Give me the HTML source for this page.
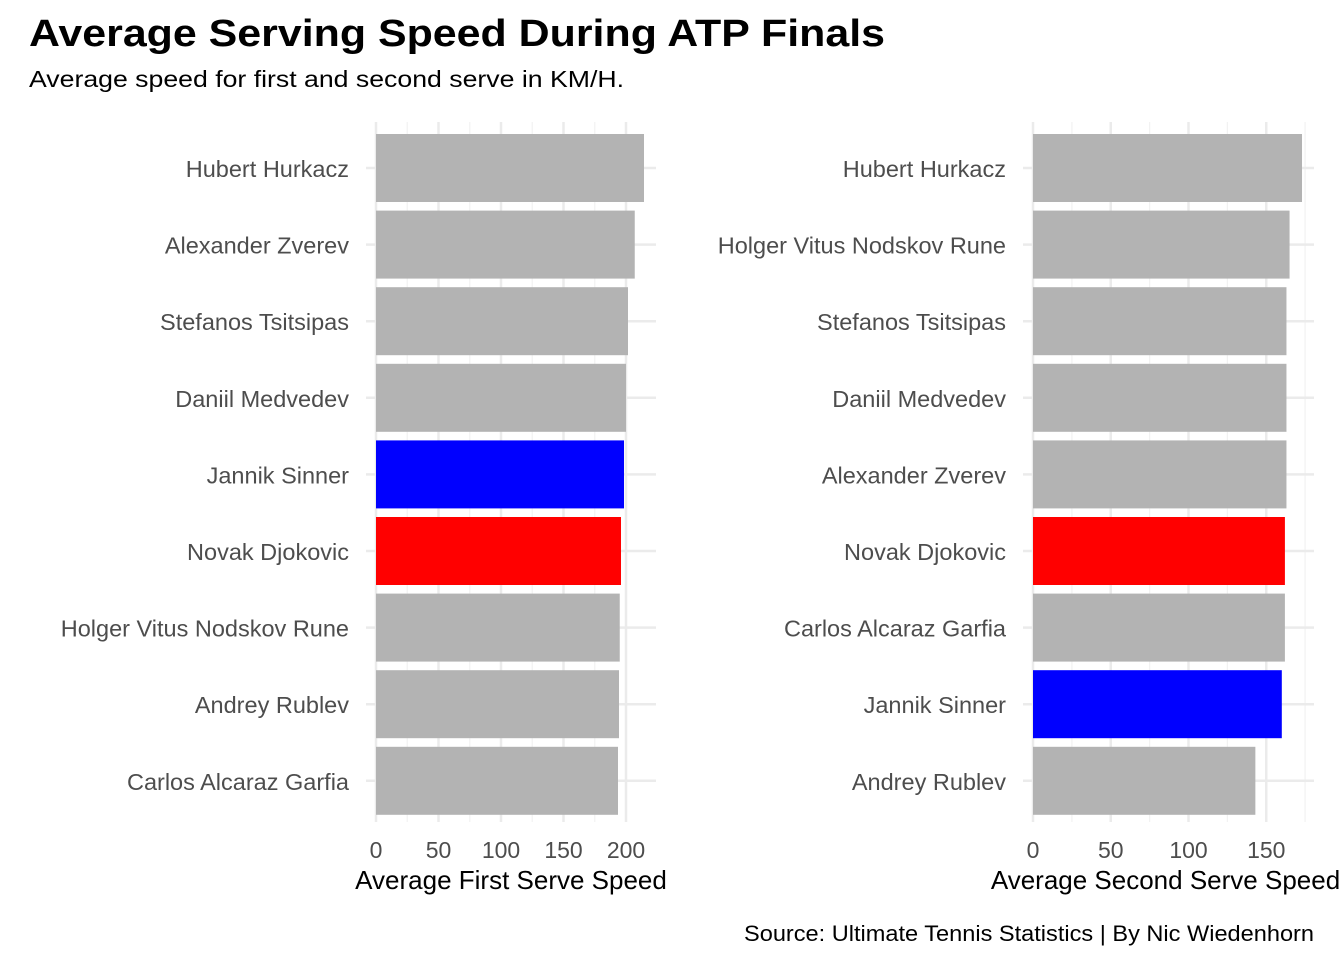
<!DOCTYPE html>
<html><head><meta charset="utf-8"><style>
body{margin:0;background:#fff;font-family:"Liberation Sans",Arial,sans-serif}
</style></head><body>
<svg id="c" width="1344" height="960" xmlns="http://www.w3.org/2000/svg" font-family="Liberation Sans, Arial, sans-serif">
<text x="29" y="46" font-size="38" font-weight="bold" fill="#000" textLength="856" lengthAdjust="spacingAndGlyphs">Average Serving Speed During ATP Finals</text>
<text x="29" y="87" font-size="23.5" fill="#000" textLength="595" lengthAdjust="spacingAndGlyphs">Average speed for first and second serve in KM/H.</text>
<text x="1314" y="941" font-size="22" text-anchor="end" fill="#000" textLength="570" lengthAdjust="spacingAndGlyphs">Source: Ultimate Tennis Statistics | By Nic Wiedenhorn</text>
</svg>
<script>
const firstPlayers=["Hubert Hurkacz","Alexander Zverev","Stefanos Tsitsipas","Daniil Medvedev","Jannik Sinner","Novak Djokovic","Holger Vitus Nodskov Rune","Andrey Rublev","Carlos Alcaraz Garfia"];
const firstValues=[214.4,207,201.6,200,198.4,196,195,194.4,193.6];
const firstTicks=[0,50,100,150,200];
const secondPlayers=["Hubert Hurkacz","Holger Vitus Nodskov Rune","Stefanos Tsitsipas","Daniil Medvedev","Alexander Zverev","Novak Djokovic","Carlos Alcaraz Garfia","Jannik Sinner","Andrey Rublev"];
const secondValues=[173,165,163,163,163,162,162,160,143];
const secondTicks=[0,50,100,150];
const svg=document.getElementById('c');
const NS="http://www.w3.org/2000/svg";
function mk(t,a){const e=document.createElementNS(NS,t);for(const k in a)e.setAttribute(k,a[k]);svg.appendChild(e);return e;}
function colorFor(n){return n==="Jannik Sinner"?"#0000ff":n==="Novak Djokovic"?"#ff0000":"#b3b3b3";}
function panel(players,values,ticks,x0,pxPer,xRight,title,prefix){
  const top=122,bottom=822,y0=168,step=76.6,bh=68;
  const xs=v=>x0+v*pxPer;
  const maxT=(xRight-x0)/pxPer;
  for(let v=25;v<maxT;v+=50){const l=mk('line',{x1:xs(v),x2:xs(v),y1:top,y2:bottom,stroke:'#f2f2f2','stroke-width':1.2});
    
    }
  ticks.forEach(v=>{const l=mk('line',{x1:xs(v),x2:xs(v),y1:top,y2:bottom,stroke:'#ebebeb','stroke-width':2.5});
    
    
    const t=mk('text',{x:xs(v),y:858,'font-size':23,'text-anchor':'middle',fill:'#4d4d4d'});t.textContent=v;
    
    });
  players.forEach((p,i)=>{const yc=y0+i*step;
    const g=mk('line',{x1:x0-10,x2:xRight,y1:yc,y2:yc,stroke:'#ebebeb','stroke-width':2.5});
    
    
    const r=mk('rect',{x:x0,y:yc-bh/2,width:xs(values[i])-x0,height:bh,fill:colorFor(p)});
    
    
    const t=mk('text',{x:x0-27,y:yc+9,'font-size':23.5,'text-anchor':'end',fill:'#4d4d4d'});t.textContent=p;
    
    });
  const at=mk('text',{x:(x0-10+xRight)/2+(prefix==='first-serve'?0:-3),y:889,'font-size':26,'text-anchor':'middle',fill:'#000'});at.textContent=title;
  
  
}
panel(firstPlayers,firstValues,firstTicks,376,1.25,656,"Average First Serve Speed","first-serve");
panel(secondPlayers,secondValues,secondTicks,1033,1.555,1314,"Average Second Serve Speed","second-serve");
</script>
</body></html>
